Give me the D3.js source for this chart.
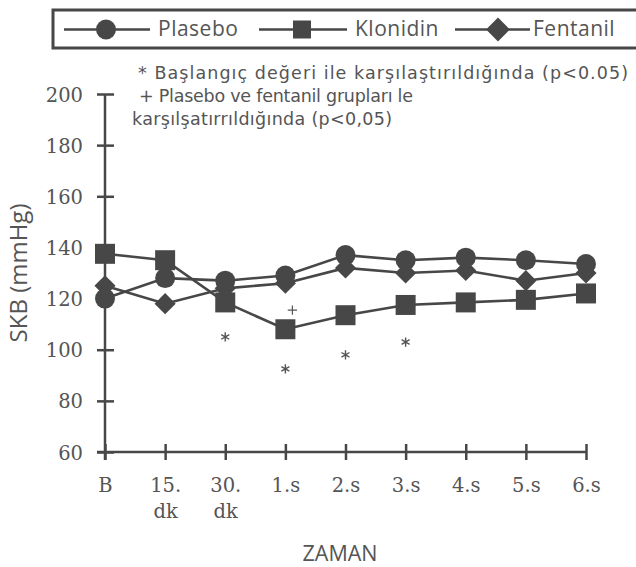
<!DOCTYPE html>
<html><head><meta charset="utf-8">
<script src="https://cdn.jsdelivr.net/npm/d3@7"></script>
<style>
html,body{margin:0;padding:0;background:#fff;}
svg{display:block;}
</style></head>
<body>
<svg id="chart" width="636" height="567"></svg>
<script>
// ---- data ----
const categories = ["B","15. dk","30. dk","1.s","2.s","3.s","4.s","5.s","6.s"];
const tickLabels = [["B"],["15.","dk"],["30.","dk"],["1.s"],["2.s"],["3.s"],["4.s"],["5.s"],["6.s"]];
const plasebo  = [120, 128, 127, 129, 137, 135, 136, 135, 133.5];
const klonidin = [137.5, 135, 118.5, 108, 113.5, 117.5, 118.5, 119.5, 122];
const fentanil = [125, 118, 124, 126, 132, 130, 131, 127, 130];
const yTicks = [60, 80, 100, 120, 140, 160, 180, 200];
const starMarks = [["30. dk",105],["1.s",92.5],["2.s",98],["3.s",103]];
const plusMarks = [["1.s",115.5]];
const seriesNames = ["Plasebo","Klonidin","Fentanil"];
const notes = ["* Başlangıç değeri ile karşılaştırıldığında (p<0.05)",
               "+ Plasebo ve fentanil grupları le",
               "karşılşatırrıldığında (p<0,05)"];
const yTitle = "SKB (mmHg)";
const xTitle = "ZAMAN";

// ---- setup ----
const svg = d3.select("#chart");
const ink = "#474747", textCol = "#555";
const sans = "'Open Sans', sans-serif", serif = "'DejaVu Serif', serif";

const x = d3.scalePoint().domain(categories).range([105, 586]).padding(0);
const y = d3.scaleLinear().domain([60, 200]).range([452, 94]);

// y axis
const gy = svg.append("g").attr("transform", `translate(${x(categories[0])},0)`)
  .call(d3.axisLeft(y).tickValues(yTicks).tickSize(8).tickPadding(14).tickFormat(d3.format("d")));
gy.select(".domain").remove();
gy.selectAll(".tick line").attr("x1", -8).attr("x2", 9).attr("stroke", ink).attr("stroke-width", 2.5);
gy.selectAll(".tick text").attr("font-family", serif).attr("font-size", 19.5).attr("fill", textCol).attr("dy", "0.36em");
svg.append("line").attr("x1", x(categories[0])).attr("x2", x(categories[0]))
  .attr("y1", y(200)).attr("y2", y(60) + 8).attr("stroke", ink).attr("stroke-width", 2.5);

// x axis
const gx = svg.append("g").attr("transform", `translate(0,${y(60)})`)
  .call(d3.axisBottom(x).tickSize(8).tickPadding(0).tickFormat(""));
gx.select(".domain").remove();
gx.selectAll(".tick line").attr("y1", -8).attr("y2", 8).attr("stroke", ink).attr("stroke-width", 2.5);
gx.selectAll(".tick").each(function(d, i) {
  const t = d3.select(this).append("text")
    .attr("font-family", serif).attr("font-size", 19.5).attr("fill", textCol)
    .attr("text-anchor", "middle").attr("y", 39.5);
  tickLabels[i].forEach((s, k) => t.append("tspan").attr("x", 0).attr("dy", k ? 26.5 : 0).text(s));
});
svg.append("line").attr("x1", x(categories[0]) - 8).attr("x2", x(categories[categories.length-1]))
  .attr("y1", y(60)).attr("y2", y(60)).attr("stroke", ink).attr("stroke-width", 2.5);

// titles
svg.append("text").attr("transform", `translate(27,273) rotate(-90)`)
  .attr("text-anchor", "middle").attr("font-family", sans).attr("font-size", 24)
  .attr("fill", textCol).text(yTitle);
svg.append("text").attr("x", 340).attr("y", 561).attr("text-anchor", "middle")
  .attr("font-family", sans).attr("font-size", 21.5).attr("fill", textCol).text(xTitle);

// notes
const noteX = [138, 139, 132], noteY = [79, 102, 125], noteW = [490, 274, 260];
notes.forEach((s, i) => svg.append("text").attr("x", noteX[i]).attr("y", noteY[i])
  .attr("font-family", "'DejaVu Sans', sans-serif").attr("font-size", 17.5)
  .attr("textLength", noteW[i]).attr("lengthAdjust", "spacing")
  .attr("fill", textCol).text(s));

// markers
const symCircle = d3.symbol().type(d3.symbolCircle).size(Math.PI * 10 * 10);
const symSquare = d3.symbol().type(d3.symbolSquare).size(20 * 20);
const symDiamond = d3.symbol().type(d3.symbolDiamond2).size(285);
const series = [
  {name: "Fentanil", values: fentanil, sym: symDiamond},
  {name: "Plasebo", values: plasebo, sym: symCircle},
  {name: "Klonidin", values: klonidin, sym: symSquare}
];
const line = d3.line().x((d, i) => x(categories[i])).y(d => y(d));
series.forEach(s => {
  svg.append("path").attr("d", line(s.values)).attr("fill", "none")
    .attr("stroke", ink).attr("stroke-width", 2.6);
});
series.forEach(s => {
  svg.append("g").selectAll("path").data(s.values).join("path")
    .attr("transform", (d, i) => `translate(${x(categories[i])},${y(d)})`)
    .attr("d", s.sym()).attr("fill", ink);
});

// significance marks
svg.append("g").selectAll("path").data(starMarks).join("path")
  .attr("transform", d => `translate(${x(d[0])},${y(d[1])})`)
  .attr("d", d3.symbol().type(d3.symbolAsterisk).size(60)())
  .attr("fill", "none").attr("stroke", textCol).attr("stroke-width", 1.4);
svg.append("g").selectAll("path").data(plusMarks).join("path")
  .attr("transform", d => `translate(${x(d[0]) + 7},${y(d[1])})`)
  .attr("d", d3.symbol().type(d3.symbolPlus).size(30)())
  .attr("fill", "none").attr("stroke", textCol).attr("stroke-width", 1.2);

// legend
const lg = svg.append("g");
lg.append("rect").attr("x", 53).attr("y", 10).attr("width", 600).attr("height", 38)
  .attr("fill", "none").attr("stroke", ink).attr("stroke-width", 3);
const legendItems = [
  {name: seriesNames[0], x1: 64, x2: 150, cx: 106, tx: 158, sym: symCircle},
  {name: seriesNames[1], x1: 259, x2: 347, cx: 302, tx: 355, sym: d3.symbol().type(d3.symbolSquare).size(18 * 18)},
  {name: seriesNames[2], x1: 455, x2: 530, cx: 498, tx: 533, sym: d3.symbol().type(d3.symbolDiamond2).size(360)}
];
legendItems.forEach(it => {
  lg.append("line").attr("x1", it.x1).attr("x2", it.x2).attr("y1", 29.5).attr("y2", 29.5)
    .attr("stroke", ink).attr("stroke-width", 2.6);
  lg.append("path").attr("transform", `translate(${it.cx},29.5)`).attr("d", it.sym()).attr("fill", ink);
  lg.append("text").attr("x", it.tx).attr("y", 36).attr("font-family", sans).attr("font-size", 21)
    .attr("letter-spacing", 0.5).attr("fill", textCol).text(it.name);
});
</script>
</body></html>
